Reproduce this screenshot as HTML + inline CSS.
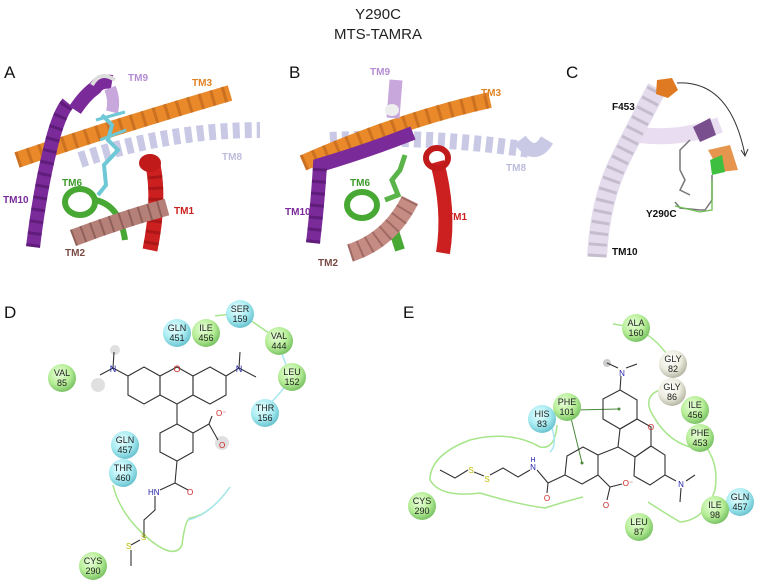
<!DOCTYPE html>
<html><head><meta charset="utf-8"><style>
html,body{margin:0;padding:0;background:#fff;}
svg{display:block;}
text{font-family:"Liberation Sans",sans-serif;}
.lab{font-size:17px;fill:#111;}
.tm{font-size:10px;font-weight:bold;}
.res{font-size:9px;fill:#222;text-anchor:middle;}
.bond{stroke:#333;stroke-width:1.1;fill:none;}
</style></head><body>
<svg width="757" height="584" viewBox="0 0 757 584" xmlns="http://www.w3.org/2000/svg">
<defs>
<radialGradient id="gG" cx="40%" cy="35%" r="65%"><stop offset="0" stop-color="#eaffdc"/><stop offset="0.6" stop-color="#b7ee98"/><stop offset="1" stop-color="#7cc466"/></radialGradient>
<radialGradient id="gC" cx="40%" cy="35%" r="65%"><stop offset="0" stop-color="#eaffff"/><stop offset="0.6" stop-color="#a8ecf2"/><stop offset="1" stop-color="#6cc4d0"/></radialGradient>
<radialGradient id="gW" cx="40%" cy="35%" r="65%"><stop offset="0" stop-color="#ffffff"/><stop offset="0.6" stop-color="#ececdf"/><stop offset="1" stop-color="#b8b8a6"/></radialGradient>
</defs>
<text x="378" y="19" font-size="15" text-anchor="middle" fill="#222">Y290C</text>
<text x="378" y="39" font-size="15" text-anchor="middle" fill="#222">MTS-TAMRA</text>

<text class="lab" x="4" y="78">A</text>
<text class="lab" x="289" y="78">B</text>
<text class="lab" x="566" y="78">C</text>
<text class="lab" x="4" y="318">D</text>
<text class="lab" x="403" y="318">E</text>

<!-- Panel A -->
<g>
<path d="M80,160 Q170,130 260,130" stroke="#c9c9e6" stroke-width="16" fill="none" stroke-dasharray="7 5"/>
<path d="M17,160 Q120,125 230,93" stroke="#e9892a" stroke-width="16" fill="none"/>
<path d="M17,160 Q120,125 230,93" stroke="#b8601a" stroke-width="16" fill="none" stroke-dasharray="3 9" opacity="0.6"/>
<path d="M33,247 Q40,190 50,150 Q58,115 68,103 M75,110 Q85,95 95,88 Q100,80 112,82" stroke="#7b2a9a" stroke-width="14" fill="none"/>
<path d="M33,247 Q40,190 50,150 Q58,115 68,103" stroke="#4e1466" stroke-width="14" fill="none" stroke-dasharray="3 9" opacity="0.6"/>
<path d="M92,85 Q100,70 115,80" stroke="#ddd" stroke-width="4" fill="none"/>
<path d="M110,88 Q115,100 112,112" stroke="#c8a8dc" stroke-width="12" fill="none"/>
<path d="M153,165 Q160,200 150,250" stroke="#cc1f1f" stroke-width="15" fill="none"/>
<path d="M153,165 Q160,200 150,250" stroke="#8a0e0e" stroke-width="15" fill="none" stroke-dasharray="3 8" opacity="0.5"/>
<ellipse cx="150" cy="163" rx="11" ry="9" fill="#c01a1a"/>
<ellipse cx="80" cy="202" rx="15" ry="13" fill="none" stroke="#47a833" stroke-width="6"/>
<path d="M95,200 Q120,205 125,240" stroke="#47a833" stroke-width="6" fill="none"/>
<path d="M73,238 Q120,220 167,207" stroke="#b58078" stroke-width="17" fill="none"/>
<path d="M73,238 Q120,220 167,207" stroke="#7a4a44" stroke-width="17" fill="none" stroke-dasharray="2 8" opacity="0.6"/>
<path d="M102,115 L112,125 L108,140 L118,150 L104,165 L106,185 L98,195" stroke="#6fc8d6" stroke-width="4" fill="none"/>
<path d="M96,120 L125,112 M100,140 L126,130" stroke="#6fc8d6" stroke-width="3"/>
<text class="tm" x="128" y="81" fill="#b48cd2">TM9</text>
<text class="tm" x="192" y="86" fill="#e08224">TM3</text>
<text class="tm" x="222" y="160" fill="#bcbcdc">TM8</text>
<text class="tm" x="62" y="186" fill="#3c9a2a">TM6</text>
<text class="tm" x="3" y="203" fill="#7b2a9a">TM10</text>
<text class="tm" x="174" y="214" fill="#cc1f1f">TM1</text>
<text class="tm" x="65" y="256" fill="#7a4a44">TM2</text>
</g>

<!-- Panel B -->
<g>
<path d="M330,140 Q430,135 530,150" stroke="#c9c9e6" stroke-width="16" fill="none" stroke-dasharray="7 5"/>
<path d="M303,163 Q400,120 490,100" stroke="#e9892a" stroke-width="16" fill="none"/>
<path d="M303,163 Q400,120 490,100" stroke="#b8601a" stroke-width="16" fill="none" stroke-dasharray="3 9" opacity="0.6"/>
<path d="M313,243 Q318,200 320,165 Q370,150 413,133" stroke="#7b2a9a" stroke-width="14" fill="none"/>
<path d="M313,243 Q318,200 320,165" stroke="#4e1466" stroke-width="14" fill="none" stroke-dasharray="3 9" opacity="0.6"/>
<path d="M396,80 L393,118" stroke="#c8a8dc" stroke-width="13" fill="none"/>
<ellipse cx="392" cy="110" rx="7" ry="6" fill="#eee"/>
<path d="M437,162 Q450,210 443,253" stroke="#cc1f1f" stroke-width="14" fill="none"/>
<ellipse cx="437" cy="158" rx="11" ry="10" fill="none" stroke="#c01a1a" stroke-width="6"/>
<ellipse cx="362" cy="205" rx="15" ry="13" fill="none" stroke="#47a833" stroke-width="6"/>
<path d="M392,225 L400,250" stroke="#47a833" stroke-width="10"/>
<path d="M350,253 Q390,240 410,200" stroke="#c58c84" stroke-width="18" fill="none"/>
<path d="M350,253 Q390,240 410,200" stroke="#7a4a44" stroke-width="18" fill="none" stroke-dasharray="2 8" opacity="0.5"/>
<path d="M405,155 L400,170 L392,180 L398,195 L385,200" stroke="#5bb44a" stroke-width="5" fill="none"/>
<text class="tm" x="370" y="75" fill="#b48cd2">TM9</text>
<text class="tm" x="481" y="96" fill="#e08224">TM3</text>
<text class="tm" x="506" y="171" fill="#bcbcdc">TM8</text>
<text class="tm" x="350" y="186" fill="#3c9a2a">TM6</text>
<text class="tm" x="285" y="215" fill="#7b2a9a">TM10</text>
<text class="tm" x="447" y="220" fill="#cc1f1f">TM1</text>
<text class="tm" x="318" y="266" fill="#7a4a44">TM2</text>
</g>

<!-- Panel C -->
<g>
<path d="M520,140 Q535,160 547,140" stroke="#c9c9e6" stroke-width="14" fill="none"/>
<path d="M640,135 Q680,140 720,125" stroke="#e3d4ee" stroke-width="16" fill="none" opacity="0.8"/>
<path d="M597,257 Q600,200 620,160 Q640,120 657,88" stroke="#e4dced" stroke-width="20" fill="none"/>
<path d="M597,257 Q600,200 620,160 Q640,120 657,88" stroke="#b0a8b8" stroke-width="18" fill="none" stroke-dasharray="3 8" opacity="0.6"/>
<polygon points="657,80 672,78 678,90 668,98 656,94" fill="#e07a22"/>
<path d="M677,83 Q730,80 745,155" stroke="#333" stroke-width="1" fill="none"/>
<path d="M741,150 L745,156 L748,149" stroke="#333" stroke-width="1" fill="none"/>
<polygon points="693,127 710,118 716,135 700,142" fill="#7a4f8e"/>
<polygon points="708,150 730,145 738,170 720,172" fill="#e07a22" opacity="0.8"/>
<polygon points="710,160 722,155 725,172 712,175" fill="#3fbf3f"/>
<path d="M690,140 L680,150 L680,170 L685,180 L680,190 L690,195 M712,175 L712,200 L705,210 L700,210 L680,208 L675,202" stroke="#777" stroke-width="1.5" fill="none"/>
<path d="M712,180 L712,210 L700,212 L675,206" stroke="#6cbf50" stroke-width="1.3" fill="none"/>
<text class="tm" x="612" y="110" fill="#111" font-size="9">F453</text>
<text class="tm" x="646" y="217" fill="#111" font-size="9">Y290C</text>
<text class="tm" x="612" y="255" fill="#111" font-size="9">TM10</text>
</g>

<!-- Panel D -->
<g>
<path d="M215,316 Q230,314 240,313 L279,340" stroke="#a6e58a" stroke-width="1.5" fill="none"/>
<path d="M279,340 Q282,360 292,376" stroke="#a8e6f0" stroke-width="1.5" fill="none"/>
<path d="M292,376 Q280,395 268,405" stroke="#a8e6f0" stroke-width="1.5" fill="none"/>
<path d="M113,485 Q120,515 150,540 Q175,560 182,545 Q185,520 190,518 Q210,515 230,487" stroke="#a6e58a" stroke-width="1.5" fill="none"/>
<path d="M188,520 Q210,515 230,487" stroke="#a8e6f0" stroke-width="1.5" fill="none"/>
<circle cx="98" cy="385" r="7" fill="#ccc" opacity="0.6"/>
<circle cx="115" cy="350" r="5" fill="#ccc" opacity="0.6"/>
<circle cx="222" cy="443" r="7" fill="#ccc" opacity="0.6"/>
<polygon class="bond" points="144,367 160,376 160,395 144,404 128,395 128,376"/>
<polygon class="bond" points="177,367 193,376 193,395 177,404 160,395 160,376"/>
<polygon class="bond" points="210,367 226,376 226,395 210,404 193,395 193,376"/>
<path class="bond" d="M128,376 L113,368 L100,375 M113,368 L114,352 M226,376 L239,368 L256,377 M239,368 L240,352 M177,404 L177,424"/>
<text x="177" y="372" font-size="9" fill="#c22" text-anchor="middle">O</text>
<text x="113" y="372" font-size="9" fill="#22a" text-anchor="middle">N</text>
<text x="239" y="372" font-size="9" fill="#22a" text-anchor="middle">N</text>
<polygon class="bond" points="177,424 193,433 193,452 177,461 160,452 160,433"/>
<path class="bond" d="M193,433 L209,424 L218,440 M209,424 L212,416 M177,461 L175,483 L160,490 M175,483 L188,490 M155,496 L155,510 L144,520 L144,538 M140,540 L131,545 M131,550 L131,566"/>
<text x="216" y="416" font-size="8" fill="#c22">O⁻</text>
<text x="219" y="448" font-size="8" fill="#c22">O</text>
<text x="148" y="495" font-size="8" fill="#22a">HN</text>
<text x="187" y="495" font-size="8" fill="#c22">O</text>
<text x="141" y="540" font-size="8" fill="#bb0">S</text>
<text x="126" y="549" font-size="8" fill="#bb0">S</text>
</g>
<g>
<circle cx="177" cy="333" r="14" fill="url(#gC)"/><text class="res" x="177" y="331">GLN</text><text class="res" x="177" y="341">451</text>
<circle cx="206" cy="333" r="14" fill="url(#gG)"/><text class="res" x="206" y="331">ILE</text><text class="res" x="206" y="341">456</text>
<circle cx="240" cy="314" r="14" fill="url(#gC)"/><text class="res" x="240" y="312">SER</text><text class="res" x="240" y="322">159</text>
<circle cx="279" cy="341" r="14" fill="url(#gG)"/><text class="res" x="279" y="339">VAL</text><text class="res" x="279" y="349">444</text>
<circle cx="292" cy="377" r="14" fill="url(#gG)"/><text class="res" x="292" y="375">LEU</text><text class="res" x="292" y="385">152</text>
<circle cx="265" cy="413" r="14" fill="url(#gC)"/><text class="res" x="265" y="411">THR</text><text class="res" x="265" y="421">156</text>
<circle cx="62" cy="378" r="14" fill="url(#gG)"/><text class="res" x="62" y="376">VAL</text><text class="res" x="62" y="386">85</text>
<circle cx="125" cy="445" r="14" fill="url(#gC)"/><text class="res" x="125" y="443">GLN</text><text class="res" x="125" y="453">457</text>
<circle cx="123" cy="473" r="14" fill="url(#gC)"/><text class="res" x="123" y="471">THR</text><text class="res" x="123" y="481">460</text>
<circle cx="93" cy="566" r="14" fill="url(#gG)"/><text class="res" x="93" y="564">CYS</text><text class="res" x="93" y="574">290</text>
</g>

<!-- Panel E -->
<g>
<path d="M613,324 Q620,325 636,328 Q660,340 673,364" stroke="#a6e58a" stroke-width="1.5" fill="none"/>
<path d="M660,390 Q645,395 650,410 Q665,440 690,447" stroke="#a6e58a" stroke-width="1.5" fill="none"/>
<path d="M700,440 Q720,460 715,490 Q705,520 680,522 Q660,510 648,502" stroke="#a6e58a" stroke-width="1.5" fill="none"/>
<path d="M557,425 Q555,450 540,447 Q510,430 470,440 Q430,455 430,480 Q440,498 480,493 Q520,505 545,508 Q570,500 583,497" stroke="#a6e58a" stroke-width="1.5" fill="none"/>
<path d="M551,425 Q558,445 550,452" stroke="#a8e6f0" stroke-width="1.5" fill="none"/>
<path d="M575,410 L619,409 M571,418 L582,463" stroke="#4a8a3a" stroke-width="1"/>
<circle cx="619" cy="409" r="1.5" fill="#4a8a3a"/><circle cx="582" cy="463" r="1.5" fill="#4a8a3a"/>
<circle cx="607" cy="363" r="4" fill="#ccc"/>
<polygon class="bond" points="603,399 620,390 637,400 637,419 620,429 603,419"/>
<polygon class="bond" points="637,419 651,427 651,446 635,457 618,447 620,429"/>
<polygon class="bond" points="651,446 665,455 665,475 650,485 634,476 635,457"/>
<polygon class="bond" points="567,456 583,447 598,455 598,475 582,484 565,475"/>
<path class="bond" d="M598,455 L618,447 M620,390 L621,376 M618,368 L607,363 M626,368 L637,364 M665,475 L676,481 M686,481 L695,475 M681,488 L680,502 M565,475 L548,483 L547,493 M548,483 L537,470 M530,470 L518,477 L503,468 L490,475 M484,476 L474,472 M468,470 L455,478 L440,470 M598,475 L610,487 L622,484 M610,487 L607,500"/>
<text x="622" y="376" font-size="8" fill="#22a" text-anchor="middle">N</text>
<text x="651" y="430" font-size="8" fill="#c22" text-anchor="middle">O</text>
<text x="681" y="487" font-size="8" fill="#22a" text-anchor="middle">N</text>
<text x="533" y="470" font-size="8" fill="#22a" text-anchor="middle">N</text>
<text x="533" y="462" font-size="7" fill="#22a" text-anchor="middle">H</text>
<text x="547" y="501" font-size="8" fill="#c22" text-anchor="middle">O</text>
<text x="487" y="482" font-size="8" fill="#bb0" text-anchor="middle">S</text>
<text x="471" y="473" font-size="8" fill="#bb0" text-anchor="middle">S</text>
<text x="628" y="486" font-size="8" fill="#c22" text-anchor="middle">O⁻</text>
<text x="606" y="508" font-size="8" fill="#c22" text-anchor="middle">O</text>
</g>
<g>
<circle cx="636" cy="328" r="14" fill="url(#gG)"/><text class="res" x="636" y="326">ALA</text><text class="res" x="636" y="336">160</text>
<circle cx="673" cy="364" r="14" fill="url(#gW)"/><text class="res" x="673" y="362">GLY</text><text class="res" x="673" y="372">82</text>
<circle cx="672" cy="392" r="14" fill="url(#gW)"/><text class="res" x="672" y="390">GLY</text><text class="res" x="672" y="400">86</text>
<circle cx="695" cy="410" r="14" fill="url(#gG)"/><text class="res" x="695" y="408">ILE</text><text class="res" x="695" y="418">456</text>
<circle cx="700" cy="438" r="14" fill="url(#gG)"/><text class="res" x="700" y="436">PHE</text><text class="res" x="700" y="446">453</text>
<circle cx="542" cy="419" r="14" fill="url(#gC)"/><text class="res" x="542" y="417">HIS</text><text class="res" x="542" y="427">83</text>
<circle cx="567" cy="407" r="14" fill="url(#gG)"/><text class="res" x="567" y="405">PHE</text><text class="res" x="567" y="415">101</text>
<circle cx="422" cy="506" r="14" fill="url(#gG)"/><text class="res" x="422" y="504">CYS</text><text class="res" x="422" y="514">290</text>
<circle cx="639" cy="527" r="14" fill="url(#gG)"/><text class="res" x="639" y="525">LEU</text><text class="res" x="639" y="535">87</text>
<circle cx="740" cy="502" r="14" fill="url(#gC)"/><text class="res" x="740" y="500">GLN</text><text class="res" x="740" y="510">457</text>
<circle cx="715" cy="510" r="14" fill="url(#gG)"/><text class="res" x="715" y="508">ILE</text><text class="res" x="715" y="518">98</text>
</g>
</svg>
</body></html>
